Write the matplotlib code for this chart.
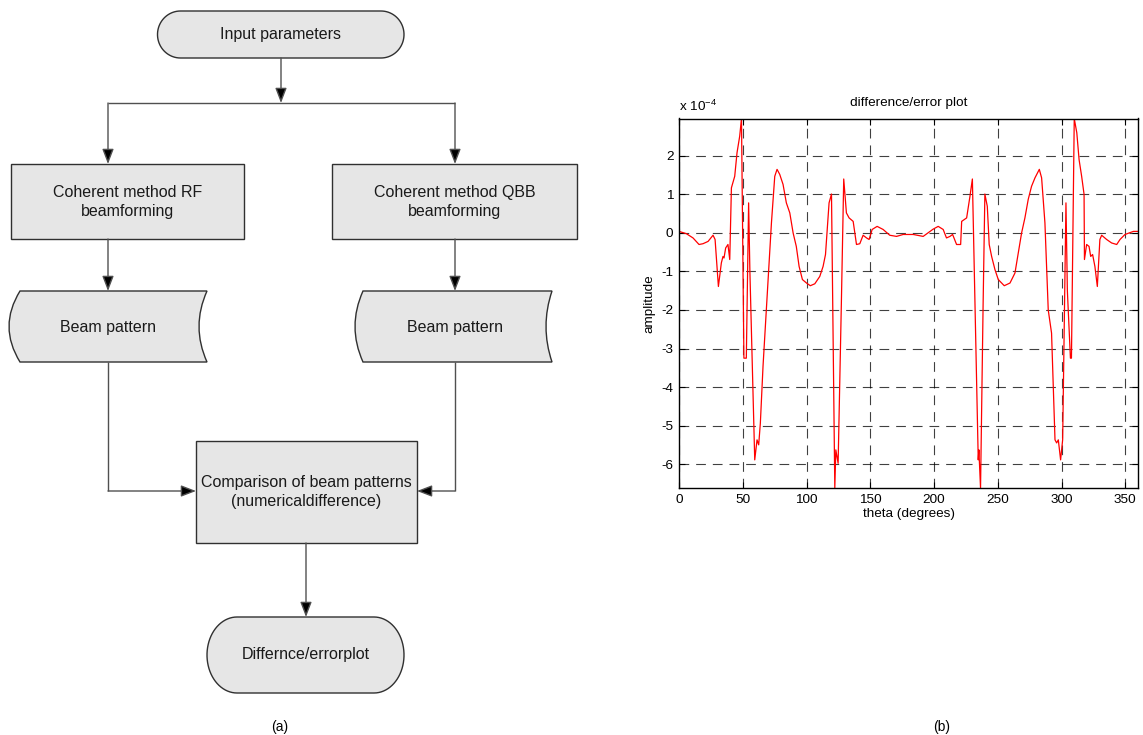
import numpy as np
import matplotlib
matplotlib.use("Agg")
import matplotlib.pyplot as plt
from matplotlib.path import Path
from matplotlib.patches import PathPatch, Rectangle

plt.rcParams['font.family'] = ['Liberation Sans', 'DejaVu Sans']
plt.rcParams['axes.unicode_minus'] = False
plt.rcParams['mathtext.default'] = 'regular'
plt.rcParams['lines.scale_dashes'] = False

# ---------------- data (difference/error curve, units of 1e-4) ----------------
theta = [0, 5.8, 11, 15.7, 18.8, 22.8, 26.7, 28.3, 30.9, 33.2, 34.5, 35.3, 36.6, 38.4, 39.8,
         41.1, 43.7, 45.5, 47.6, 49.0, 50.9, 52.8, 54.6, 55.6, 59.4, 61.2, 62.5, 63.8, 65.9,
         68.5, 72.5, 75.1, 76.9, 79, 81.6, 84.2, 86.9, 89.5, 92, 94.2, 96.8, 100, 103, 106.5,
         110.4, 113, 114.9, 117.7, 119.6, 122.2, 123, 124.8, 127.4, 129.2, 131.3, 133.4, 136.6,
         139.2, 141.8, 144.4, 147.1, 149.1, 151.5, 155.4, 160.1, 165.3, 170.6, 175.8, 183.7,
         191.5, 199.4, 203.3, 207.2, 209.8, 212.5, 214.6, 217.7, 220.9, 221.7, 225.6, 228.2,
         230.1, 234.7, 235.2, 236.5, 238.5, 239.9, 241.8, 243.3, 245.2, 247.8, 250.4, 255.1,
         259.6, 263.5, 266.1, 268.7, 271.3, 273.9, 276.5, 279.2, 282.6, 284.4, 287, 289.6,
         292.2, 294.9, 296.2, 297.5, 299.3, 300.9, 303.5, 304.6, 307, 307.8, 310, 312, 313.8,
         315.8, 317.7, 318, 319.7, 321.6, 322.9, 324.4, 326.2, 328.1, 330.1, 331.5, 335.4,
         339.3, 343.3, 345.9, 349.8, 356.4, 360]
amplitude = [0.04, -0.02, -0.13, -0.30, -0.28, -0.22, -0.06, -0.17, -1.39, -0.78, -0.61, -0.65,
             -0.39, -0.30, -0.69, 1.17, 1.47, 2.08, 2.51, 2.97, -3.25, -3.25, 0.78, -1.0, -5.89,
             -5.37, -5.5, -4.94, -3.46, -2.0, 0.26, 1.47, 1.65, 1.52, 1.26, 0.78, 0.52, 0.0,
             -0.35, -0.87, -1.21, -1.30, -1.37, -1.32, -1.13, -0.87, -0.56, 0.78, 1.01, -6.62,
             -5.63, -5.98, -1.73, 1.40, 0.52, 0.39, 0.30, -0.30, -0.28, -0.06, -0.13, -0.17,
             0.09, 0.17, 0.09, -0.06, -0.09, -0.04, -0.04, -0.09, 0.10, 0.17, 0.09, -0.13,
             -0.09, -0.04, -0.30, -0.30, 0.30, 0.39, 0.95, 1.40, -5.89, -5.63, -6.62, -1.9,
             1.01, 0.69, -0.30, -0.61, -0.95, -1.21, -1.37, -1.30, -1.04, -0.52, 0.0, 0.39,
             0.87, 1.21, 1.43, 1.65, 1.43, 0.26, -2.0, -2.6, -5.37, -5.45, -5.37, -5.89, -5.37,
             0.78, -1.5, -3.25, -3.25, 2.97, 2.6, 1.9, 1.47, 1.0, -0.69, -0.30, -0.35, -0.61,
             -0.56, -0.87, -1.39, -0.17, -0.06, -0.17, -0.26, -0.30, -0.17, -0.04, 0.04, 0.04]
x_ticks = [0, 50, 100, 150, 200, 250, 300, 350]
y_ticks = [-6, -5, -4, -3, -2, -1, 0, 1, 2]

# ---------------- flowchart labels ----------------
lbl_input = "Input parameters"
lbl_rf = "Coherent method RF\nbeamforming"
lbl_qbb = "Coherent method QBB\nbeamforming"
lbl_beam = "Beam pattern"
lbl_cmp = "Comparison of beam patterns\n(numericaldifference)"
lbl_out = "Differnce/errorplot"

W, H = 1143, 735
fig = plt.figure(figsize=(W / 100, H / 100), dpi=100)
fa = fig.add_axes([0, 0, 1, 1])
fa.set_xlim(0, W)
fa.set_ylim(H, 0)
fa.axis('off')

FILL = '#e6e6e6'
EDGE = '#303030'
LINE = '#505050'
FS = 11.5


def stadium(x0, x1, y0, y1, rx):
    ym = (y0 + y1) / 2
    ry = (y1 - y0) / 2
    t = np.linspace(-np.pi / 2, np.pi / 2, 40)
    right = np.column_stack([x1 - rx + rx * np.cos(t), ym + ry * np.sin(t)])
    t2 = np.linspace(np.pi / 2, 3 * np.pi / 2, 40)
    left = np.column_stack([x0 + rx + rx * np.cos(t2), ym + ry * np.sin(t2)])
    pts = np.vstack([right, left, right[:1]])
    fa.add_patch(PathPatch(Path(pts, closed=True), fc=FILL, ec=EDGE, lw=1.0))


def rect(x0, x1, y0, y1):
    fa.add_patch(Rectangle((x0, y0), x1 - x0, y1 - y0, fc=FILL, ec=EDGE, lw=1.0))


def stored(x0, x1, y0, y1, dl=11, dr=8):
    ym = (y0 + y1) / 2
    verts = [(x0 + dl, y0), (x1, y0), (x1 - 2 * dr, ym), (x1, y1),
             (x0 + dl, y1), (x0 - dl, ym), (x0 + dl, y0), (x0 + dl, y0)]
    codes = [Path.MOVETO, Path.LINETO, Path.CURVE3, Path.CURVE3,
             Path.LINETO, Path.CURVE3, Path.CURVE3, Path.CLOSEPOLY]
    fa.add_patch(PathPatch(Path(verts, codes), fc=FILL, ec=EDGE, lw=1.0))


def arrow(p0, p1):
    fa.annotate('', xy=p1, xytext=p0,
                arrowprops=dict(arrowstyle='-|>,head_length=0.65,head_width=0.25',
                                color=LINE, lw=1.0, mutation_scale=14,
                                shrinkA=0, shrinkB=0, fc='black', ec=LINE))


def line(xs, ys):
    fa.plot(xs, ys, color=LINE, lw=1.0, solid_capstyle='butt')


def label(x, y, s):
    fa.text(x, y, s, ha='center', va='center', fontsize=FS, color='#1a1a1a',
            linespacing=1.3, multialignment='center')


# shapes
stadium(157.5, 404, 11, 58, 23)
label(281, 34, lbl_input)
rect(11, 244, 164, 239)
label(127.5, 202, lbl_rf)
rect(332, 577, 164, 239)
label(454.5, 202, lbl_qbb)
stored(9, 207, 291, 362)
label(108, 327, lbl_beam)
stored(355, 552, 291, 362, dl=8, dr=6)
label(455, 327, lbl_beam)
rect(196, 417, 441, 543)
label(306.5, 492, lbl_cmp)
stadium(207, 404, 617, 693, 30)
label(305.5, 655, lbl_out)

# connectors
arrow((281, 58), (281, 103))
line([108, 455], [103, 103])
arrow((108, 103), (108, 164))
arrow((455, 103), (455, 164))
arrow((108, 239), (108, 291))
arrow((455, 239), (455, 291))
line([108, 108], [362, 491])
arrow((108, 491), (196, 491))
line([455, 455], [362, 491])
arrow((455, 491), (417, 491))
arrow((306, 543), (306, 617))

fa.text(280, 727, "(a)", ha='center', va='center', fontsize=10)
fa.text(942, 727, "(b)", ha='center', va='center', fontsize=10)

# ---------------- error plot ----------------
ax = fig.add_axes([679 / W, (H - 488) / H, (1138 - 679) / W, (488 - 118.5) / H])
ax.plot(theta, amplitude, color='red', lw=0.9)
ax.set_xlim(0, 360)
ax.set_ylim(-6.62, 2.97)
ax.set_xticks(x_ticks)
ax.set_yticks(y_ticks)
ax.set_xticklabels([str(v) for v in x_ticks])
ax.set_yticklabels([str(v) for v in y_ticks])
ax.tick_params(direction='in', length=4, width=0.8, top=True, right=True,
               labelsize=9.7, pad=4, colors='black')
ax.grid(True, color='black', lw=0.8, linestyle=(0, (7, 5)), alpha=0.75)
for s in ax.spines.values():
    s.set_linewidth(1.0)
ax.set_xlabel("theta (degrees)", fontsize=9.7, labelpad=2)
ax.set_ylabel("amplitude", fontsize=9.7, labelpad=4)
ax.set_title("difference/error plot", fontsize=9.7, pad=9)
ax.text(0, 1.012, r"x 10$^{-4}$", transform=ax.transAxes, ha='left', va='bottom',
        fontsize=9.7)

fig.savefig("out.png", dpi=100)
